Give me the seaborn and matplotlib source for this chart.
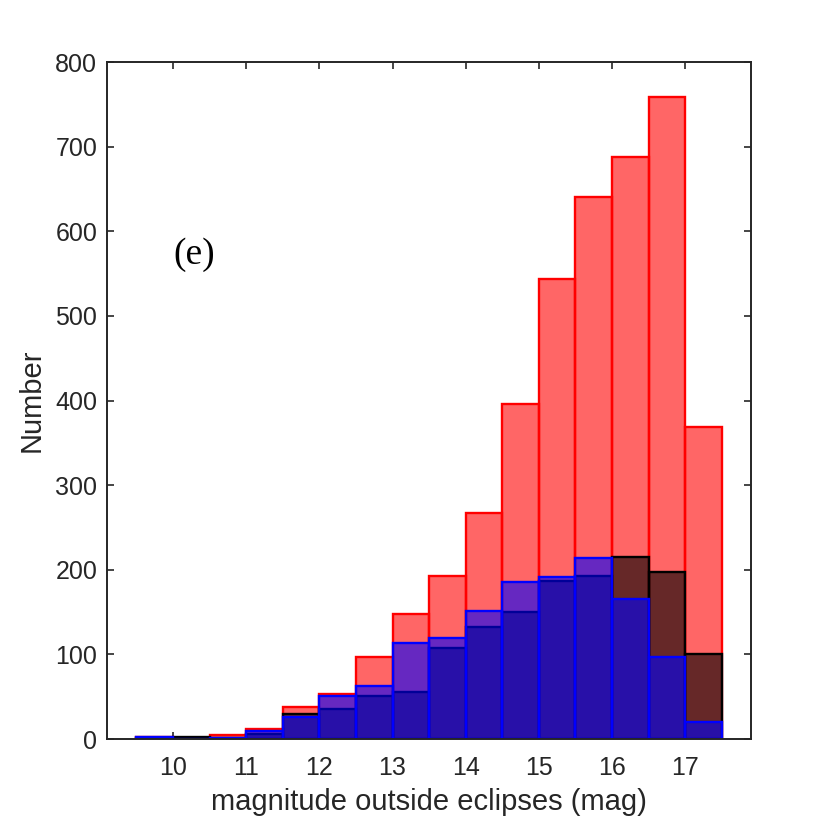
import matplotlib
matplotlib.use("Agg")
import matplotlib.pyplot as plt
import seaborn as sns

# bin edges (mag) and counts per bin
bin_edges = [9.5, 10.0, 10.5, 11.0, 11.5, 12.0, 12.5, 13.0, 13.5, 14.0,
             14.5, 15.0, 15.5, 16.0, 16.5, 17.0, 17.5]
bin_left = bin_edges[:-1]
red_counts = [2, 1, 5, 12, 38, 53, 97, 148, 193, 267, 396, 543, 641, 688, 759, 369]
black_counts = [1, 2, 1, 6, 30, 36, 51, 56, 107, 132, 150, 187, 193, 215, 197, 100]
blue_counts = [2, 0, 1, 10, 26, 51, 63, 113, 119, 151, 185, 192, 214, 165, 97, 20]

x_ticks = [10, 11, 12, 13, 14, 15, 16, 17]
y_ticks = [0, 100, 200, 300, 400, 500, 600, 700, 800]

sns.set_style("ticks")
plt.rcParams['font.family'] = ['Liberation Sans', 'DejaVu Sans']
axis_col = '#262626'

fig = plt.figure(figsize=(8.3, 8.3), dpi=100)
ax = fig.add_axes([0.129, 0.1096, 0.776, 0.8157])

for counts, col in [(red_counts, 'red'), (black_counts, 'black'), (blue_counts, 'blue')]:
    sns.histplot(x=bin_left, weights=counts, bins=bin_edges, color=col, alpha=0.6,
                 edgecolor=col, linewidth=1.7, ax=ax)

ax.set_xlim(9.1, 17.9)
ax.set_ylim(0, 800)
ax.set_xticks(x_ticks)
ax.set_yticks(y_ticks)
ax.set_xlabel('magnitude outside eclipses (mag)', fontsize=21, color=axis_col, labelpad=6)
ax.set_ylabel('Number', fontsize=21, color=axis_col, labelpad=7)

for side in ['top', 'right', 'left', 'bottom']:
    ax.spines[side].set_visible(True)
    ax.spines[side].set_color(axis_col)
    ax.spines[side].set_linewidth(1.4)
ax.tick_params(direction='in', length=5, width=1.2, colors=axis_col,
               labelsize=18, top=True, right=True)
ax.tick_params(axis='x', pad=12)
ax.tick_params(axis='y', pad=7)

ax.text(10.0, 572, '(e)', fontsize=27, family=['Liberation Serif', 'DejaVu Serif'],
        ha='left', va='center', color='black')

fig.savefig('out.png', dpi=100)
